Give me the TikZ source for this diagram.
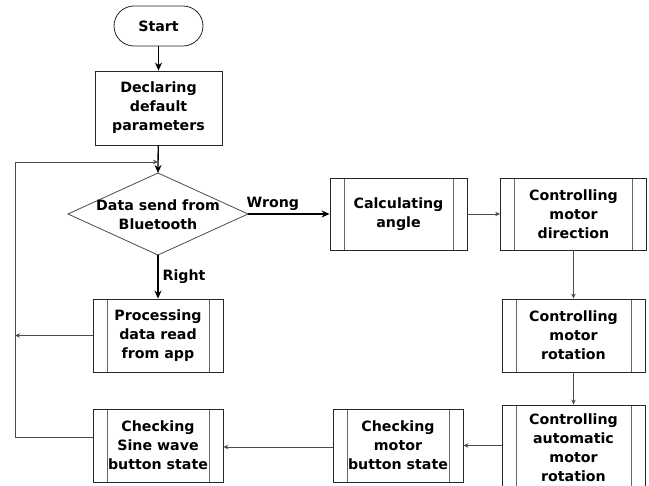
\documentclass[tikz,border=0pt]{standalone}
\usepackage{fontspec}
\setmainfont{DejaVu Sans}
\usetikzlibrary{arrows.meta}

\newcommand{\lblfont}{\bfseries\fontsize{14.2}{19}\selectfont}

\tikzset{
  box/.style={draw=black!85, line width=0.8pt, fill=white, align=center,
    inner sep=0pt, font=\lblfont},
  procbox/.style={box, path picture={
      \draw[black!60, line width=0.8pt]
        ([xshift=14pt]path picture bounding box.north west) --
        ([xshift=14pt]path picture bounding box.south west)
        ([xshift=-14pt]path picture bounding box.north east) --
        ([xshift=-14pt]path picture bounding box.south east);}},
  strong/.style={draw=black, line width=1.3pt,
    -{Stealth[length=8pt,width=7pt]}},
  thinlink/.style={draw=black!70, line width=0.8pt,
    -{Stealth[length=5pt,width=4.5pt]}},
  thinline/.style={draw=black!70, line width=0.8pt},
  lab/.style={font=\lblfont, inner sep=0pt}
}

\begin{document}
\begin{tikzpicture}[x=1pt,y=-1pt]
\useasboundingbox (0,0) rectangle (649,486);
\clip (0,0) rectangle (649,486);

% left column
\node[box, rounded corners=20pt, minimum width=89pt, minimum height=40pt]
  (start) at (158.5,26) {Start};
\node[box, minimum width=127pt, minimum height=74pt]
  (decl) at (158.5,108) {Declaring\\default\\parameters};

% decision
\coordinate (dtop) at (158,173);
\coordinate (dbot) at (158,255);
\coordinate (dleft) at (68,214);
\coordinate (dright) at (248,214);
\draw[black!70, line width=0.8pt, fill=white]
  (dtop) -- (dright) -- (dbot) -- (dleft) -- cycle;
\node[lab, align=center] (dec) at (158,215) {Data send from\\Bluetooth};

\node[procbox, minimum width=130pt, minimum height=73pt]
  (proc) at (158,335.5) {Processing\\data read\\from app};
\node[procbox, minimum width=130pt, minimum height=73pt]
  (sine) at (158,445.5) {Checking\\Sine wave\\button state};

% right part
\node[procbox, minimum width=137pt, minimum height=72pt]
  (calc) at (398.5,214) {Calculating\\angle};
\node[procbox, minimum width=146pt, minimum height=72pt]
  (dir) at (573.5,214) {Controlling\\motor\\direction};
\node[procbox, minimum width=143pt, minimum height=73pt]
  (rot) at (573.5,335.5) {Controlling\\motor\\rotation};
\node[procbox, minimum width=143pt, minimum height=86pt]
  (auto) at (573.5,448) {Controlling\\automatic\\motor\\rotation};
\node[procbox, minimum width=130pt, minimum height=73pt]
  (motor) at (398,445.5) {Checking\\motor\\button state};

% main flow
\draw[strong] (start) -- (decl);
\draw[strong] (decl) -- (dtop);
\draw[strong] (dright) -- (calc.west) node[lab, pos=0, anchor=base west, xshift=-2pt, yshift=6pt] (wrong) {Wrong};
\draw[strong] (dbot) -- (proc.north) node[lab, midway, anchor=west, xshift=4pt] (right) {Right};

\draw[thinlink] (calc.east) -- (dir.west);
\draw[thinlink] (dir.south) -- (rot.north);
\draw[thinlink] (rot.south) -- (auto.north);
\draw[thinlink] (auto.west |- motor.center) -- (motor.east);
\draw[thinlink] (motor.west |- 0,447) -- (sine.east |- 0,447);

% return paths to the decision
\coordinate (loopTop) at (15,162);
\coordinate (loopBot) at (15,437);
\coordinate (join) at (158,162);
\draw[thinline] (sine.west |- loopBot) -- (loopBot) -- (loopTop);
\draw[thinlink] (loopTop) -- (join);
\draw[thinlink] (proc.west) -- (proc.west -| loopTop);
\end{tikzpicture}
\end{document}
